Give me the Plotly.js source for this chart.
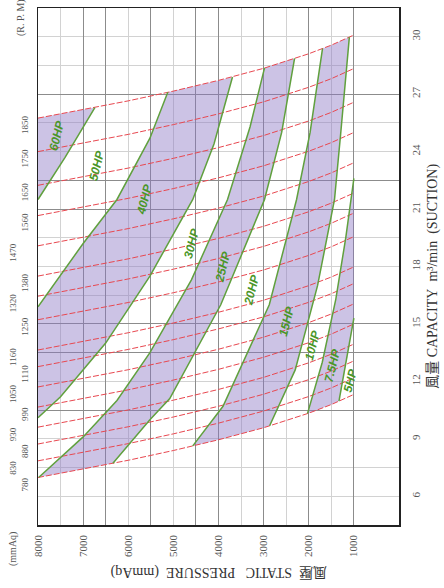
<!DOCTYPE html>
<html><head><meta charset="utf-8">
<script src="https://cdn.plot.ly/plotly-3.0.1.min.js"></script>
<style>html,body{margin:0;padding:0;background:#fff;}#chart{width:444px;height:588px;}</style>
</head><body><div id="chart"></div>
<script>
// ---- data ----
const pressureSamples = [8000, 7000, 6000, 5000, 4000, 3000, 2000, 1500, 1000];
const rpmValues = [780, 830, 880, 930, 990, 1050, 1110, 1160, 1250, 1320, 1380, 1470, 1560, 1650, 1750, 1850];
const capacityByRpm = [
  [6.98, 7.42, 7.88, 8.39, 8.95, 9.58, 10.34, 10.79, 11.32],
  [7.85, 8.29, 8.75, 9.26, 9.82, 10.45, 11.21, 11.66, 12.19],
  [8.73, 9.17, 9.63, 10.14, 10.70, 11.33, 12.09, 12.54, 13.07],
  [9.61, 10.05, 10.51, 11.02, 11.58, 12.21, 12.97, 13.42, 13.95],
  [10.66, 11.10, 11.56, 12.07, 12.63, 13.26, 14.02, 14.47, 15.00],
  [11.71, 12.15, 12.61, 13.12, 13.68, 14.31, 15.07, 15.52, 16.05],
  [12.77, 13.21, 13.67, 14.18, 14.74, 15.37, 16.13, 16.58, 17.11],
  [13.64, 14.08, 14.54, 15.05, 15.61, 16.24, 17.00, 17.45, 17.98],
  [15.22, 15.66, 16.12, 16.63, 17.19, 17.82, 18.58, 19.03, 19.56],
  [16.45, 16.89, 17.35, 17.86, 18.42, 19.05, 19.81, 20.26, 20.79],
  [17.50, 17.94, 18.40, 18.91, 19.47, 20.10, 20.86, 21.31, 21.84],
  [19.08, 19.52, 19.98, 20.49, 21.05, 21.68, 22.44, 22.89, 23.42],
  [20.66, 21.10, 21.56, 22.07, 22.63, 23.26, 24.02, 24.47, 25.00],
  [22.24, 22.68, 23.14, 23.65, 24.21, 24.84, 25.60, 26.05, 26.58],
  [24.00, 24.44, 24.90, 25.41, 25.97, 26.60, 27.36, 27.81, 28.34],
  [25.75, 26.19, 26.65, 27.16, 27.72, 28.35, 29.11, 29.56, 30.09]
];
const hpNames = ['60HP', '50HP', '40HP', '30HP', '25HP', '20HP', '15HP', '10HP', '7.5HP'];
const hpPressure = [
  [8000, 7400, 6740],
  [8000, 7000, 6250, 5520, 5124],
  [8000, 7500, 6500, 5520, 4570, 4100, 3690],
  [7980, 7000, 6250, 5520, 4600, 3800, 3300, 2980],
  [6340, 5520, 5080, 3950, 2980, 2600, 2314],
  [4570, 3900, 2875, 2270, 1970, 1695],
  [2867, 2300, 1805, 1429, 1290, 1100],
  [2027, 1700, 1400, 1180, 1000],
  [1330, 1160, 1000]
];
const hpCapacity = [
  [21.5, 23.7, 26.3],
  [15.9, 19.2, 21.5, 24.7, 27.1],
  [10.1, 11.2, 14.0, 17.5, 21.5, 24.4, 27.9],
  [6.99, 9.1, 11.0, 13.5, 17.3, 21.5, 25.3, 28.37],
  [7.72, 10.0, 11.1, 16.0, 21.5, 25.0, 28.87],
  [8.63, 10.7, 16.0, 21.5, 25.0, 29.38],
  [9.68, 12.6, 17.0, 21.5, 25.0, 29.98],
  [10.33, 13.0, 16.3, 19.5, 22.6],
  [10.97, 13.1, 15.3]
];
// shaded bands: pairs of HP line indices (-1 = left edge)
const shadedBands = [[-1, 0], [1, 2], [3, 4], [5, 6], [7, 8]];
const hpLabelText = ['60HP', '50HP', '40HP', '30HP', '25HP', '20HP', '15HP', '10HP', '7.5HP', '5HP'];
const hpLabelPressure = [7580, 6695, 5630, 4593, 3907, 3265, 2491, 1916, 1474, 1075];
const hpLabelCapacity = [24.87, 23.3, 21.5, 19.23, 17.98, 16.77, 15.16, 13.9, 12.86, 12.07];
const pressureGrid = [8000, 7500, 7000, 6500, 6000, 5500, 5000, 4500, 4000, 3500, 3000, 2500, 2000, 1500, 1000];
const pressureGridDark = [7000, 6500, 5500, 4500, 4000, 3000, 2000, 1000];
const capacityGrid = [6, 7.5, 9, 10.5, 12, 13.5, 15, 16.5, 18, 19.5, 21, 22.5, 24, 25.5, 27, 28.5, 30];
const capacityGridDark = [27, 22.5, 21, 15, 13.5, 10.5];

// ---- styles ----
const SERIF = "'Liberation Serif', 'Noto Sans CJK TC', serif";
const RED = 'rgb(232,72,80)';
const GREEN = 'rgb(96,160,62)';
const FILL = 'rgba(140,118,196,0.44)';

const topQ = capacityByRpm[capacityByRpm.length - 1];
const botQ = capacityByRpm[0];
function between(curveQ, pHigh, pLow) {
  const pts = [];
  for (let i = 0; i < pressureSamples.length; i++) {
    const p = pressureSamples[i];
    if (p < pHigh - 1e-6 && p > pLow + 1e-6) pts.push([p, curveQ[i]]);
  }
  return pts;
}
function linePts(i) {
  if (i < 0) return [[pressureSamples[0], topQ[0]]];
  return hpPressure[i].map((p, k) => [p, hpCapacity[i][k]]);
}

const traces = [];
shadedBands.forEach(([a, b]) => {
  const A = linePts(a), B = linePts(b);
  const aS = A[0], aE = A[A.length - 1], bS = B[0], bE = B[B.length - 1];
  const pts = [].concat(A, between(topQ, aE[0], bE[0]), B.slice().reverse(),
    between(botQ, aS[0], bS[0]).reverse());
  traces.push({
    x: pts.map(p => p[0]), y: pts.map(p => p[1]), mode: 'lines', fill: 'toself',
    fillcolor: FILL, line: {width: 0}, hoverinfo: 'skip', showlegend: false
  });
});
capacityByRpm.forEach((q, i) => {
  traces.push({
    x: pressureSamples, y: q, mode: 'lines', name: rpmValues[i] + ' rpm',
    line: {color: RED, width: 1, dash: '6px,2px'}, showlegend: false
  });
});
hpNames.forEach((n, i) => {
  traces.push({
    x: hpPressure[i], y: hpCapacity[i], mode: 'lines', name: n,
    line: {color: GREEN, width: 1.5}, showlegend: false
  });
});
traces.push({x: [null], y: [null], xaxis: 'x2', yaxis: 'y2', mode: 'lines', showlegend: false, hoverinfo: 'skip'});

const annotations = [];
rpmValues.forEach((r, i) => {
  const outer = (i % 2 === 1) && i < 12;
  annotations.push({
    x: pressureSamples[0], y: capacityByRpm[i][0], xref: 'x', yref: 'y',
    text: String(r), showarrow: false, textangle: -90,
    xanchor: 'center', yanchor: 'middle', xshift: outer ? -25 : -13, yshift: -7,
    font: {family: SERIF, size: 9, color: '#555'}
  });
});
hpLabelText.forEach((t, i) => {
  annotations.push({
    x: hpLabelPressure[i], y: hpLabelCapacity[i], xref: 'x', yref: 'y',
    text: '<b><i>' + t + '</i></b>', showarrow: false, textangle: -76,
    xanchor: 'center', yanchor: 'middle',
    font: {family: "'Liberation Sans', Arial, sans-serif", size: 12, color: 'rgb(74,150,40)'}
  });
});
const nb = '\u00a0';
annotations.push({
  xref: 'paper', yref: 'paper', x: 1, y: 0.48, xshift: 34, showarrow: false, textangle: -90,
  text: '風量' + nb + 'CAPACITY' + nb + nb + 'm³/min' + nb + nb + '(SUCTION)',
  xanchor: 'center', yanchor: 'middle', font: {family: SERIF, size: 14, color: '#333'}
});
annotations.push({
  xref: 'paper', yref: 'paper', x: 0.5, y: 0, yshift: -47, showarrow: false, textangle: 180,
  text: '風壓' + nb + nb + 'STATIC' + nb + nb + nb + 'PRESSURE' + nb + nb + '(mmAq)',
  xanchor: 'center', yanchor: 'middle', font: {family: SERIF, size: 14, color: '#333'}
});
annotations.push({
  xref: 'paper', yref: 'paper', x: 0, y: 1, xshift: -17, yshift: -10, showarrow: false, textangle: -90,
  text: '(R.' + nb + 'P.' + nb + 'M)', xanchor: 'center', yanchor: 'middle',
  font: {family: SERIF, size: 10, color: '#555'}
});
annotations.push({
  xref: 'paper', yref: 'paper', x: 0, y: 0, xshift: -25, yshift: -24, showarrow: false, textangle: -90,
  text: '(mmAq)', xanchor: 'center', yanchor: 'middle',
  font: {family: SERIF, size: 10, color: '#555'}
});

const layout = {
  width: 444, height: 588,
  margin: {l: 38, r: 45, t: 8, b: 63, pad: 0},
  paper_bgcolor: '#fff', plot_bgcolor: '#fff',
  showlegend: false,
  xaxis: {
    range: [8000, 0], tickmode: 'array', tickvals: pressureGrid,
    ticktext: pressureGrid.map(v => v % 1000 === 0 ? String(v) : ''),
    tickangle: -90, ticks: '', ticklabelstandoff: 4,
    tickfont: {family: SERIF, size: 11, color: '#555'},
    showgrid: true, gridcolor: '#d2d2d2', gridwidth: 1,
    zeroline: false, showline: true, mirror: true, linecolor: '#222', linewidth: 1.5,
    automargin: false, fixedrange: true
  },
  xaxis2: {
    overlaying: 'x', range: [8000, 0], tickmode: 'array', tickvals: pressureGridDark,
    showticklabels: false, ticks: '', showgrid: true, gridcolor: '#8c8c8c', gridwidth: 1,
    zeroline: false, showline: false, automargin: false
  },
  yaxis: {
    side: 'right', range: [4.5, 31.5], tickmode: 'array', tickvals: capacityGrid,
    ticktext: capacityGrid.map(v => v % 3 === 0 ? String(v) : ''),
    tickangle: -90, ticks: '', ticklabelstandoff: 6,
    tickfont: {family: SERIF, size: 11, color: '#555'},
    showgrid: true, gridcolor: '#d2d2d2', gridwidth: 1,
    zeroline: false, showline: true, mirror: true, linecolor: '#222', linewidth: 1.5,
    automargin: false, fixedrange: true
  },
  yaxis2: {
    overlaying: 'y', range: [4.5, 31.5], tickmode: 'array', tickvals: capacityGridDark,
    showticklabels: false, ticks: '', showgrid: true, gridcolor: '#8c8c8c', gridwidth: 1,
    zeroline: false, showline: false, automargin: false
  },
  annotations: annotations
};
Plotly.newPlot('chart', traces, layout, {staticPlot: true, displayModeBar: false});
</script></body></html>
